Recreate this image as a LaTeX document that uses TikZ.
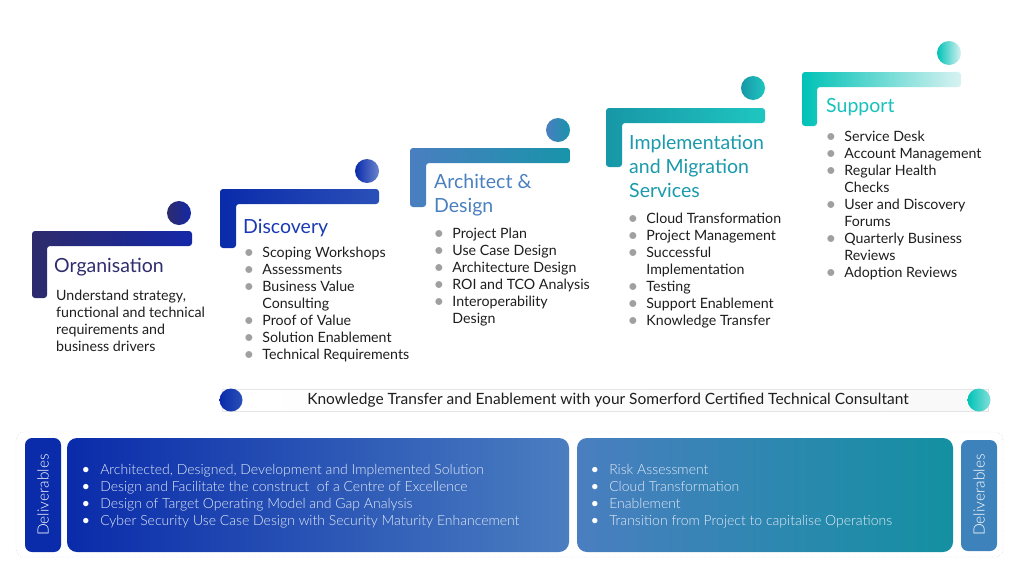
\documentclass[tikz,border=0pt]{standalone}
\usepackage{fontspec}
\setmainfont{Lato}
\newfontfamily\latolight{Lato Light}
\usepackage{xcolor}
\usepackage{tikz}
\usetikzlibrary{positioning}

\definecolor{orgA}{HTML}{2D2B6B}
\definecolor{orgB}{HTML}{1428A8}
\definecolor{discA}{HTML}{0A2BAA}
\definecolor{discB}{HTML}{2A50B8}
\definecolor{archA}{HTML}{4A7EC0}
\definecolor{archB}{HTML}{1894AA}
\definecolor{implA}{HTML}{1797A7}
\definecolor{implB}{HTML}{1FC6C0}
\definecolor{suppA}{HTML}{00C2B6}
\definecolor{suppB}{HTML}{D8F2F2}
\definecolor{orgT}{HTML}{2E2D6E}
\definecolor{discT}{HTML}{1A3AB5}
\definecolor{archT}{HTML}{4A80C0}
\definecolor{implT}{HTML}{1A9AAA}
\definecolor{suppT}{HTML}{18C2BA}
\definecolor{txtdark}{HTML}{1E1E1E}
\definecolor{bulgray}{HTML}{A0A0A0}
\definecolor{kbblue}{HTML}{DDEFF5}
\definecolor{boxtxt}{HTML}{E2EAF6}
\definecolor{frame}{HTML}{9AA6DA}
\definecolor{tabR}{HTML}{3E82BC}

\newcommand\gbul{\raisebox{-0.1em}{\scalebox{1.3}{\textcolor{bulgray}{\textbullet}}}}
\newcommand\wbul{\raisebox{-0.1em}{\scalebox{1.3}{\textcolor{white}{\textbullet}}}}

\begin{document}
\begin{tikzpicture}[
    x=1pt, y=-1pt,
    title/.style={anchor=base west, inner sep=0pt, font=\fontsize{19.5}{24}\selectfont},
    blist/.style={anchor=base west, inner sep=0pt, font=\fontsize{14.2}{17}\selectfont, text=txtdark},
    dlist/.style={anchor=base west, inner sep=0pt, font=\latolight\fontsize{14}{17}\selectfont, text=boxtxt},
    dot/.style={circle, minimum size=24pt, inner sep=0pt},
    tabtxt/.style={rotate=90, text=white, font=\latolight\fontsize{15.5}{18}\selectfont}
]
    \fill[white] (0,0) rectangle (1024,576);
    \useasboundingbox (0,0) rectangle (1024,576);

    % steps
    \shade[left color=orgA, right color=orgB, rounded corners=3pt]
        (32,231) -- (192,231) -- (192,246) -- (47,246) -- (47,298) -- (32,298) -- cycle;
    \node[dot, left color=orgA, right color=orgB] (org-dot) at (179,213) {};
    \node[title, text=orgT] (org-title) at (54,272) {Organisation};
    \node[blist] (org-text) at (56,300) {\begin{tabular}[t]{@{}l@{}}
        Understand strategy,\\ functional and technical\\ requirements and\\ business drivers\end{tabular}};

    \shade[left color=discA, right color=discB, rounded corners=3pt]
        (220,189) -- (379,189) -- (379,204) -- (236,204) -- (236,248) -- (220,248) -- cycle;
    \node[dot, left color=discA, right color=discB!70!white] (disc-dot) at (367,171) {};
    \node[title, text=discT] (disc-title) at (243,233) {Discovery};
    \node[blist] (disc-list) at (243.5,257) {\begin{tabular}[t]{@{}c@{\hspace{8pt}}l@{}}
        \gbul & Scoping Workshops\\ \gbul & Assessments\\ \gbul & Business Value\\ & Consulting\\
        \gbul & Proof of Value\\ \gbul & Solution Enablement\\ \gbul & Technical Requirements\end{tabular}};

    \shade[left color=archA, right color=archB, rounded corners=3pt]
        (410,148) -- (570,148) -- (570,163) -- (426,163) -- (426,207) -- (410,207) -- cycle;
    \node[dot, left color=archA, right color=archB] (arch-dot) at (558,130) {};
    \node[title, text=archT] (arch-title) at (434,188) {\begin{tabular}[t]{@{}l@{}}Architect \&\\ Design\end{tabular}};
    \node[blist] (arch-list) at (433.5,238) {\begin{tabular}[t]{@{}c@{\hspace{8pt}}l@{}}
        \gbul & Project Plan\\ \gbul & Use Case Design\\ \gbul & Architecture Design\\
        \gbul & ROI and TCO Analysis\\ \gbul & Interoperability\\ & Design\end{tabular}};

    \shade[left color=implA, right color=implB, rounded corners=3pt]
        (606,108) -- (765,108) -- (765,123) -- (622,123) -- (622,167) -- (606,167) -- cycle;
    \node[dot, left color=implA, right color=implB] (impl-dot) at (753,88) {};
    \node[title, text=implT] (impl-title) at (629,149) {\begin{tabular}[t]{@{}l@{}}Implementation\\ and Migration\\ Services\end{tabular}};
    \node[blist] (impl-list) at (627.5,223) {\begin{tabular}[t]{@{}c@{\hspace{8pt}}l@{}}
        \gbul & Cloud Transformation\\ \gbul & Project Management\\ \gbul & Successful\\ & Implementation\\
        \gbul & Testing\\ \gbul & Support Enablement\\ \gbul & Knowledge Transfer\end{tabular}};

    \shade[left color=suppA, right color=suppB, rounded corners=3pt]
        (802,72) -- (961,72) -- (961,87) -- (817,87) -- (817,126) -- (802,126) -- cycle;
    \node[dot, left color=suppA, right color=suppB] (supp-dot) at (949,53) {};
    \node[title, text=suppT] (supp-title) at (826,112) {Support};
    \node[blist] (supp-list) at (825.5,141) {\begin{tabular}[t]{@{}c@{\hspace{8pt}}l@{}}
        \gbul & Service Desk\\ \gbul & Account Management\\ \gbul & Regular Health\\ & Checks\\
        \gbul & User and Discovery\\ & Forums\\ \gbul & Quarterly Business\\ & Reviews\\
        \gbul & Adoption Reviews\end{tabular}};

    % knowledge transfer bar
    \shade[left color=white, middle color=kbblue, right color=white!95!gray, draw=gray!20]
        (222,389) rectangle (988,411);
    \node[dot, minimum size=23pt, left color=discA, right color=discB] (kt-left) at (231,400) {};
    \node[dot, minimum size=23pt, left color=suppA, right color=suppB!60!suppA] (kt-right) at (979,400) {};
    \node[font=\fontsize{15.5}{18}\selectfont, text=txtdark] (kt-text) at (608,400)
        {Knowledge Transfer and Enablement with your Somerford Certified Technical Consultant};

    % deliverables
    \draw[frame, dotted, rounded corners=8pt] (16,432) rectangle (1003,557);
    \fill[discA, rounded corners=7pt] (25,438) rectangle (61,552);
    \node[tabtxt] (del-left) at (43,495) {Deliverables};
    \shade[left color=discA, right color=archA, rounded corners=10pt] (67,438) rectangle (569,552);
    \node[dlist] (del-one) at (80.5,474) {\begin{tabular}[t]{@{}c@{\hspace{9pt}}l@{}}
        \wbul & Architected, Designed, Development and Implemented Solution\\
        \wbul & Design and Facilitate the construct \ of a Centre of Excellence\\
        \wbul & Design of Target Operating Model and Gap Analysis\\
        \wbul & Cyber Security Use Case Design with Security Maturity Enhancement\end{tabular}};
    \shade[left color=archA, right color=archB!80!teal, rounded corners=10pt] (577,438) rectangle (953,552);
    \node[dlist] (del-two) at (589.5,474) {\begin{tabular}[t]{@{}c@{\hspace{9pt}}l@{}}
        \wbul & Risk Assessment\\ \wbul & Cloud Transformation\\ \wbul & Enablement\\
        \wbul & Transition from Project to capitalise Operations\end{tabular}};
    \fill[tabR, rounded corners=7pt] (961,440) rectangle (997,551);
    \node[tabtxt] (del-right) at (979,495) {Deliverables};
\end{tikzpicture}
\end{document}
